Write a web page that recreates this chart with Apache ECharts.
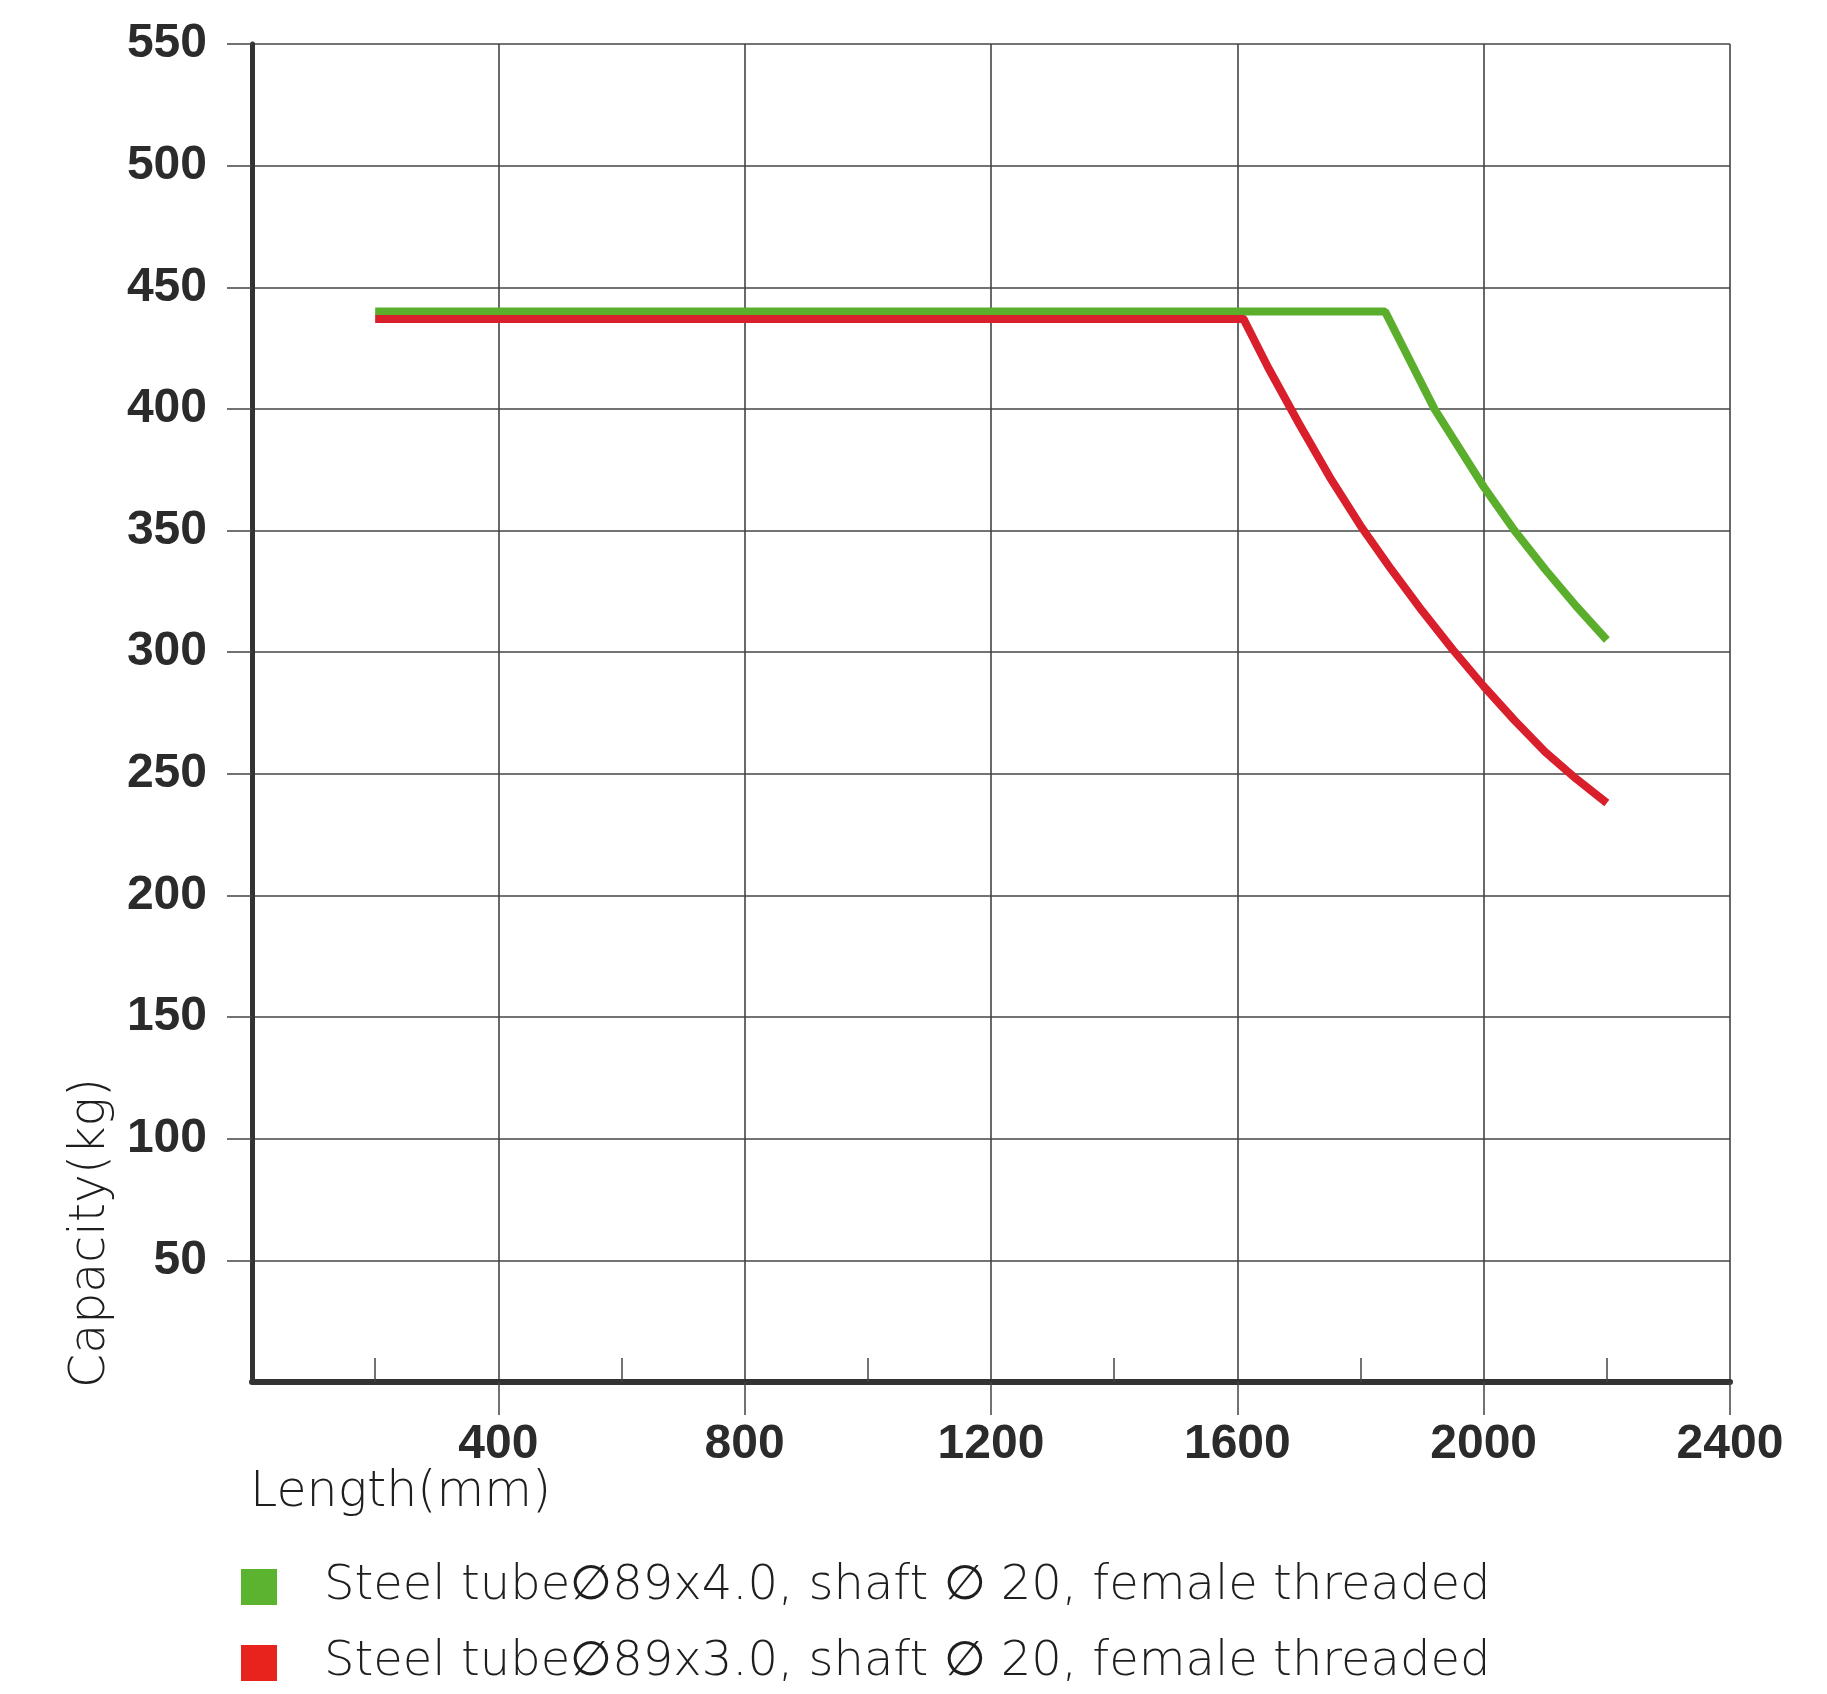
<!DOCTYPE html>
<html>
<head>
<meta charset="utf-8">
<script src="https://cdn.jsdelivr.net/npm/echarts@6/dist/echarts.min.js"></script>
<style>
  html, body { margin: 0; padding: 0; background: #fff; }
  #chart { width: 1827px; height: 1694px; }
</style>
</head>
<body>
<div id="chart"></div>
<script>
// series names (legend)
const seriesNames = [
  'Steel tube∅89x4.0, shaft ∅ 20, female threaded',
  'Steel tube∅89x3.0, shaft ∅ 20, female threaded'
]
// Length (mm) / Capacity (kg)
const tube40Length = [200, 1840, 1880, 1920, 2000, 2050, 2100, 2150, 2200]
const tube40Capacity = [440, 440, 420, 400, 368, 350, 334, 319, 305]
const tube30Length = [200, 1610, 1650, 1700, 1750, 1800, 1850, 1900, 1950, 2000, 2050, 2100, 2150, 2200]
const tube30Capacity = [437, 437, 417, 394, 372, 352, 334, 317, 301, 286, 272, 259, 248, 238]
// tick values
const xTicks = [400, 800, 1200, 1600, 2000, 2400]
const xMinorTicks = [200, 600, 1000, 1400, 1800, 2200]
const yTicks = [50, 100, 150, 200, 250, 300, 350, 400, 450, 500, 550]

const pairs = (xs, ys) => xs.map((x, i) => [x, ys[i]])

const chart = echarts.init(document.getElementById('chart'))

const labelFont = {
  color: '#2b2b2b',
  fontSize: 48,
  fontWeight: 'bold',
  fontFamily: '"Liberation Sans", Arial, sans-serif',
  formatter: v => String(v)
}
const nameFont = '200 49px "DejaVu Sans", sans-serif'

const option = {
  backgroundColor: '#fff',
  animation: false,
  grid: {
    left: 252,
    right: 97,
    top: 44,
    bottom: 312
  },
  legend: {
    orient: 'vertical',
    left: 241,
    top: 1559,
    padding: 0,
    icon: 'rect',
    itemWidth: 36,
    itemHeight: 36,
    itemGap: 20,
    textStyle: {
      color: '#1e1e1e',
      fontSize: 48,
      fontWeight: 200,
      lineHeight: 56,
      fontFamily: '"DejaVu Sans", sans-serif',
      padding: [0, 0, 0, 42]
    },
    data: [
      { name: seriesNames[0], itemStyle: { color: '#5cb330' } },
      { name: seriesNames[1], itemStyle: { color: '#e8231e' } }
    ]
  },
  xAxis: [
    {
      type: 'value',
      min: 0,
      max: 2400,
      interval: 400,
      axisLine: { show: true, lineStyle: { color: '#333', width: 6 } },
      axisTick: {
        show: true,
        length: 33,
        customValues: xTicks,
        lineStyle: { color: '#444', width: 1.5 }
      },
      splitLine: { show: true, lineStyle: { color: '#444', width: 1.6 } },
      axisLabel: Object.assign({ showMinLabel: false, margin: 39 }, labelFont)
    },
    {
      // small inside ticks halfway between grid lines
      type: 'value',
      min: 0,
      max: 2400,
      interval: 200,
      position: 'bottom',
      offset: 0,
      axisLine: { show: false },
      axisTick: {
        show: true,
        inside: true,
        length: 24,
        customValues: xMinorTicks,
        lineStyle: { color: '#444', width: 1.5 }
      },
      axisLabel: { show: false },
      splitLine: { show: false }
    }
  ],
  yAxis: {
    type: 'value',
    min: 0,
    max: 550,
    interval: 50,
    axisLine: { show: true, lineStyle: { color: '#333', width: 5 } },
    axisTick: {
      show: true,
      length: 25,
      customValues: yTicks,
      lineStyle: { color: '#444', width: 1.5 }
    },
    splitLine: { show: true, lineStyle: { color: '#444', width: 1.6 } },
    axisLabel: Object.assign({ showMinLabel: false, margin: 45 }, labelFont)
  },
  graphic: [
    {
      type: 'text',
      x: 91,
      y: 1233,
      rotation: Math.PI / 2,
      style: {
        text: 'Capacity(kg)',
        font: nameFont,
        fill: '#1e1e1e',
        align: 'center',
        verticalAlign: 'middle'
      }
    },
    {
      type: 'text',
      x: 250,
      y: 1493,
      style: {
        text: 'Length(mm)',
        font: nameFont,
        fill: '#1e1e1e',
        align: 'left',
        verticalAlign: 'middle'
      }
    }
  ],
  series: [
    {
      name: seriesNames[0],
      type: 'line',
      showSymbol: false,
      data: pairs(tube40Length, tube40Capacity),
      itemStyle: { color: '#5cb330' },
      lineStyle: { color: '#5aae2c', width: 8 },
      z: 3
    },
    {
      name: seriesNames[1],
      type: 'line',
      showSymbol: false,
      data: pairs(tube30Length, tube30Capacity),
      itemStyle: { color: '#e8231e' },
      lineStyle: { color: '#d81f2b', width: 8, join: 'round' },
      z: 4
    }
  ]
}

chart.setOption(option)
</script>
</body>
</html>
